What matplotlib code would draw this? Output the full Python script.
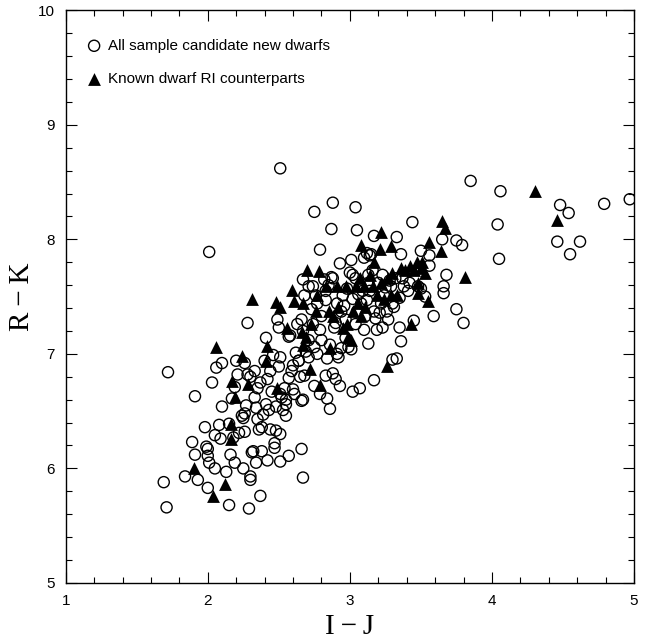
import matplotlib
matplotlib.use("Agg")
import matplotlib.pyplot as plt
from matplotlib.ticker import MultipleLocator

# candidate new dwarfs (open circles): I-J, R-K
cand_ij = [
    2.51, 3.85, 4.06, 4.97, 4.79, 4.48, 4.54, 4.04, 4.46, 4.62, 4.55, 4.05, 2.01, 2.88, 3.04, 2.75, 2.87, 3.05, 3.44, 2.79,
    1.72, 1.91, 1.69, 1.71, 2.28,
    3.17, 3.33, 3.65, 3.75, 3.79, 3.50, 3.36, 3.56, 3.56, 3.15, 3.12, 3.01, 2.93, 3.00, 3.68, 3.37, 3.04, 3.13, 2.82, 2.67,
    2.74, 2.87, 3.66, 3.66, 3.50, 3.53, 3.59, 3.75, 3.80, 3.45, 3.35, 3.36, 3.30, 3.33, 3.23, 3.17, 3.07, 3.02, 3.13, 2.99, 3.01,
    2.49, 2.50, 2.57, 2.66, 2.68, 2.71, 2.73, 2.74, 2.76, 2.77, 2.80, 2.83, 2.85, 2.88, 2.89, 2.91, 2.94, 2.95, 2.97, 2.98,
    3.02, 3.02, 3.04, 3.05, 3.07, 3.08, 3.10, 3.11, 3.13, 3.14, 3.16, 3.17, 3.19, 3.20, 3.22, 3.23, 3.24, 3.26, 3.27, 3.29,
    3.30, 3.32, 3.38, 3.41, 3.42, 3.48, 3.10, 3.14, 2.94, 2.91, 2.84, 2.86, 2.80, 2.69, 2.71, 2.77, 2.62, 2.64, 2.67, 2.63,
    2.58, 2.41,
    2.10, 2.03, 2.06, 2.19, 2.20, 2.21, 2.26, 2.33, 2.37, 2.40, 2.45, 2.46, 2.50, 2.51, 2.51, 2.54, 2.57, 2.59, 2.60, 2.61,
    2.64, 2.65, 2.67, 2.68, 2.75, 2.79, 2.83, 2.84, 2.86, 2.88, 2.90, 2.93, 2.92, 2.30, 2.35, 2.28, 2.42, 2.44,
    1.84, 1.89, 1.91, 1.93, 1.98, 1.99, 2.00, 2.00, 2.00, 2.01, 2.05, 2.05, 2.08, 2.09, 2.10, 2.13, 2.15, 2.16, 2.17, 2.18,
    2.19, 2.22, 2.24, 2.25, 2.25, 2.26, 2.27, 2.29, 2.30, 2.30, 2.31, 2.32, 2.34, 2.34, 2.35, 2.36, 2.37, 2.38, 2.38, 2.41,
    2.42, 2.43, 2.44, 2.47, 2.47, 2.48, 2.51, 2.51, 2.53, 2.55, 2.57, 2.66, 2.67, 2.66, 2.15, 2.26, 2.48, 2.52, 2.55,
    2.71, 2.79, 2.90, 2.96, 3.06, 3.12, 3.18, 3.25, 3.31, 3.35, 2.83, 2.97, 3.09, 3.21, 3.28, 2.75, 2.60, 2.55, 2.33, 2.39,
]
cand_rk = [
    8.62, 8.51, 8.42, 8.35, 8.31, 8.30, 8.23, 8.13, 7.98, 7.98, 7.87, 7.83, 7.89, 8.32, 8.28, 8.24, 8.09, 8.08, 8.15, 7.91,
    6.84, 6.63, 5.88, 5.66, 7.27,
    8.03, 8.02, 8.00, 7.99, 7.95, 7.90, 7.87, 7.86, 7.77, 7.87, 7.88, 7.82, 7.79, 7.71, 7.69, 7.66, 7.66, 7.69, 7.65, 7.65,
    7.59, 7.67, 7.59, 7.53, 7.57, 7.50, 7.33, 7.39, 7.27, 7.29, 7.23, 7.11, 6.95, 6.96, 7.23, 6.77, 6.70, 6.67, 7.09, 7.06, 7.04,
    7.30, 7.23, 7.15, 7.30, 7.51, 7.59, 7.39, 7.26, 7.51, 7.44, 7.33, 7.55, 7.60, 7.66, 7.23, 7.44, 7.37, 7.51, 7.30, 7.57,
    7.48, 7.69, 7.26, 7.37, 7.59, 7.44, 7.21, 7.33, 7.62, 7.55, 7.73, 7.37, 7.21, 7.62, 7.44, 7.69, 7.51, 7.37, 7.30, 7.59,
    7.44, 7.66, 7.59, 7.55, 7.62, 7.59, 7.84, 7.86, 7.05, 7.00, 6.96, 7.08, 7.12, 7.02, 6.97, 7.00, 7.01, 6.94, 7.20, 7.26,
    7.16, 7.14,
    6.92, 6.75, 6.88, 6.71, 6.94, 6.82, 6.92, 6.85, 6.75, 6.94, 6.67, 6.99, 6.89, 6.97, 6.65, 6.70, 6.79, 6.85, 6.69, 6.65,
    6.94, 6.80, 6.60, 6.81, 6.72, 6.65, 6.81, 6.61, 6.52, 6.83, 6.78, 6.72, 6.97, 6.80, 6.70, 6.82, 6.78, 6.85,
    5.93, 6.23, 6.12, 5.90, 6.36, 6.19, 6.11, 5.83, 6.17, 6.05, 6.29, 6.00, 6.38, 6.26, 6.54, 5.97, 5.68, 6.12, 6.61, 6.27,
    6.05, 6.31, 6.46, 6.00, 6.44, 6.32, 6.55, 5.65, 5.90, 5.93, 6.14, 6.15, 6.53, 6.05, 6.43, 6.34, 5.76, 6.15, 6.36, 6.56,
    6.07, 6.51, 6.34, 6.22, 6.18, 6.33, 6.06, 6.30, 6.51, 6.46, 6.11, 6.17, 5.92, 6.59, 6.39, 6.48, 6.54, 6.62, 6.56,
    7.12, 7.21, 7.27, 7.42, 7.52, 7.47, 7.31, 7.58, 7.41, 7.49, 7.47, 7.14, 7.55, 7.36, 7.64, 7.06, 6.90, 6.60, 6.62, 6.47,
]

# known dwarf RI counterparts (filled triangles)
known_ij = [
    4.30, 4.46, 3.65, 3.67, 3.81, 3.22, 3.08, 3.29, 3.21, 3.56, 3.64, 2.31, 2.48, 2.51, 2.59, 2.06, 2.24, 2.17, 2.19, 2.16,
    2.16, 1.90, 2.12, 2.04, 2.42, 2.41, 2.28, 2.49, 2.56, 3.26, 3.43, 2.72, 2.79, 2.70, 2.78,
    2.66, 2.67, 2.69, 2.73, 2.76, 2.77, 2.83, 2.85, 2.86, 2.88, 2.91, 2.92, 2.95, 2.97, 2.98, 2.99, 3.01, 3.02, 3.04, 3.06,
    3.07, 3.08, 3.10, 3.11, 3.14, 3.16, 3.17, 3.19, 3.22, 3.24, 3.27, 3.29, 3.30, 3.33, 3.36, 3.39, 3.42, 3.45, 3.47, 3.48,
    3.50, 3.51, 3.53, 3.48, 3.55, 2.61, 2.67,
]
known_rk = [
    8.42, 8.17, 8.16, 8.10, 7.67, 8.06, 7.95, 7.94, 7.92, 7.98, 7.90, 7.48, 7.45, 7.41, 7.56, 7.06, 6.98, 6.76, 6.62, 6.39,
    6.26, 6.00, 5.86, 5.76, 7.07, 6.94, 6.74, 6.70, 7.23, 6.89, 7.26, 6.87, 6.73, 7.73, 7.72,
    7.19, 7.08, 7.15, 7.26, 7.37, 7.51, 7.59, 7.37, 7.05, 7.33, 7.59, 7.41, 7.23, 7.59, 7.26, 7.15, 7.12, 7.37, 7.59, 7.44,
    7.66, 7.33, 7.59, 7.41, 7.69, 7.59, 7.80, 7.51, 7.62, 7.48, 7.66, 7.51, 7.71, 7.51, 7.75, 7.73, 7.77, 7.73, 7.80, 7.62,
    7.75, 7.80, 7.71, 7.53, 7.46, 7.46, 7.44,
]

plt.rcParams.update({"font.family": "Liberation Sans", "font.size": 11})
SERIF = "Liberation Serif"

fig = plt.figure(figsize=(6.57, 6.42), dpi=100)
ax = fig.add_axes([0.100, 0.092, 0.865, 0.892])

ax.scatter(cand_ij, cand_rk, s=64, facecolors="none", edgecolors="black", linewidths=1.0, zorder=2)
ax.scatter(known_ij, known_rk, s=85, marker="^", color="black", linewidths=0, zorder=3)

ax.set_xlim(1, 5); ax.set_ylim(5, 10)
ax.xaxis.set_major_locator(MultipleLocator(1)); ax.xaxis.set_minor_locator(MultipleLocator(0.2))
ax.yaxis.set_major_locator(MultipleLocator(1)); ax.yaxis.set_minor_locator(MultipleLocator(0.2))
ax.tick_params(which="both", direction="in", top=True, right=True, labelsize=11, width=0.8)
ax.tick_params(which="major", length=8, pad=8)
ax.tick_params(which="minor", length=4)
for s in ax.spines.values():
    s.set_linewidth(1.0)

ax.set_xlabel("I\u2009\u2212\u2009J", family=SERIF, fontsize=21, labelpad=4)
ax.set_ylabel("R\u2009\u2212\u2009K", family=SERIF, fontsize=21, labelpad=2)

# legend drawn by hand, as in the original
ax.scatter([1.20], [9.69], s=64, facecolors="none", edgecolors="black", linewidths=1.0)
ax.text(1.30, 9.69, "All sample candidate new dwarfs", va="center", fontsize=11)
ax.scatter([1.20], [9.40], s=85, marker="^", color="black", linewidths=0)
ax.text(1.30, 9.40, "Known dwarf RI counterparts", va="center", fontsize=11)

fig.savefig("out.png", dpi=100)
